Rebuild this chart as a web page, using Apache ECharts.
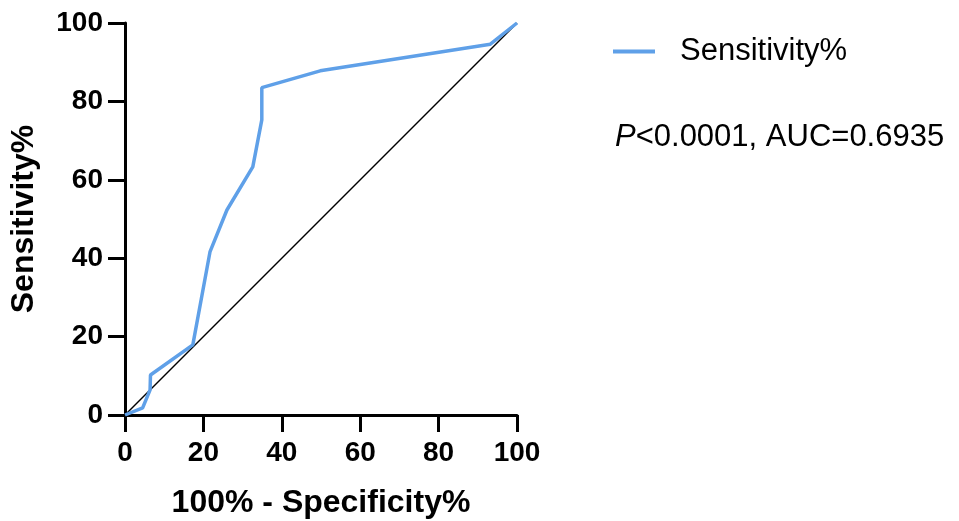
<!DOCTYPE html>
<html>
<head>
<meta charset="utf-8">
<style>
html,body{margin:0;padding:0;background:#fff;}
#chart{width:959px;height:521px;}
</style>
<script src="https://cdn.jsdelivr.net/npm/echarts@6/dist/echarts.min.js"></script>
</head>
<body>
<div id="chart"></div>
<script>
// ROC curve values (100% - Specificity%, Sensitivity%)
var fpr = [0, 4.5, 6.4, 6.5, 17.3, 21.7, 26.0, 32.6, 34.9, 34.9, 49.8, 93.2, 100];
var tpr = [0, 1.8, 6.4, 10.2, 17.9, 41.7, 52.3, 63.3, 75.3, 83.5, 87.8, 94.6, 100];
// reference (chance) line
var refX = [0, 100];
var refY = [0, 100];
var seriesName = 'Sensitivity%';
var xName = '100% - Specificity%';
var yName = 'Sensitivity%';
var statText = '<0.0001, AUC=0.6935';

var rocData = fpr.map(function (x, i) { return [x, tpr[i]]; });
var refData = refX.map(function (x, i) { return [x, refY[i]]; });

var FONT = '"Liberation Sans", Arial, sans-serif';
var chart = echarts.init(document.getElementById('chart'));
var axisCommon = {
  type: 'value', min: 0, max: 100, interval: 20,
  nameLocation: 'middle',
  nameTextStyle: { fontFamily: FONT, fontWeight: 'bold', fontSize: 32, color: '#000' },
  axisLine: { show: true, lineStyle: { color: '#000', width: 3 } },
  axisTick: { show: true, length: 17, lineStyle: { color: '#000', width: 3 } },
  axisLabel: { fontFamily: FONT, fontWeight: 'bold', fontSize: 28, color: '#000', margin: 22 },
  splitLine: { show: false }
};
chart.setOption({
  animation: false,
  backgroundColor: '#fff',
  grid: { left: 125, right: 442, top: 23, bottom: 106, containLabel: false, outerBoundsMode: 'none' },
  xAxis: Object.assign({}, axisCommon, { name: xName, nameGap: 72,
    axisLabel: Object.assign({}, axisCommon.axisLabel, { margin: 24 }) }),
  yAxis: Object.assign({}, axisCommon, { name: yName, nameGap: 85 }),
  legend: {
    data: [seriesName],
    left: 608, top: 31,
    icon: 'rect', itemWidth: 42, itemHeight: 4,
    textStyle: { fontFamily: FONT, fontSize: 31, color: '#000', padding: [0, 0, 0, 20] }
  },
  title: {
    text: '{i|P}' + statText,
    left: 610, top: 117,
    textStyle: {
      fontFamily: FONT, fontSize: 31, fontWeight: 'normal', color: '#000',
      rich: { i: { fontFamily: FONT, fontSize: 31, fontStyle: 'italic', color: '#000' } }
    }
  },
  series: [
    {
      name: 'reference', type: 'line', data: refData, showSymbol: false,
      lineStyle: { color: '#000', width: 1.5 }, z: 1, silent: true
    },
    {
      name: seriesName, type: 'line', data: rocData, showSymbol: false,
      itemStyle: { color: '#5fa0e8' },
      lineStyle: { color: '#5fa0e8', width: 3.5 }, z: 2
    }
  ]
});
</script>
</body>
</html>
